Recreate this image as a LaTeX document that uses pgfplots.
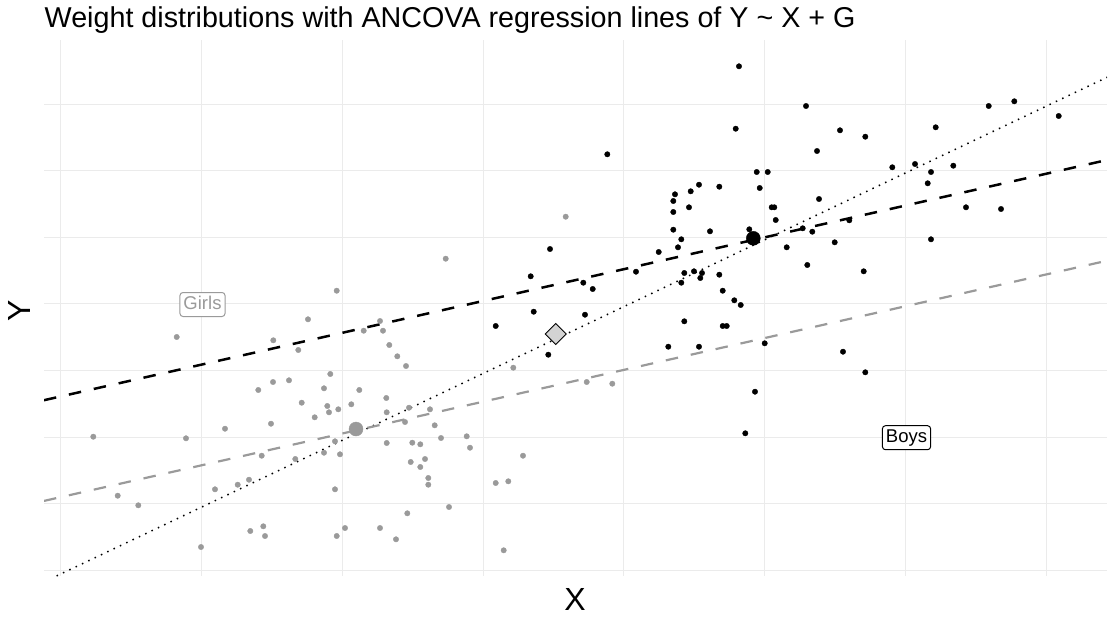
\documentclass[border=0pt]{standalone}
\usepackage{fontspec}
\setmainfont{Liberation Sans}
\usepackage{pgfplots}
\usepackage{pgfplotstable}
\pgfplotsset{compat=1.18}
\definecolor{gridgray}{HTML}{EBEBEB}
\definecolor{girlgray}{HTML}{9A9A9A}
\definecolor{diamondfill}{HTML}{D3D3D3}

% point positions (x right, y down)
\pgfplotstableread{
x y
739 66.3
735.7 128.7
607.3 154.3
756.7 172
767.7 172
759.7 188
699 184.7
690.7 191.3
719.3 186.7
675 194.3
673.3 201
689 207.3
673.3 212
673.3 229.7
710 231.3
749.3 229.3
681.3 239.3
658.7 252
678 247.3
550 249
636 271.7
684.3 273
694 271.3
702 273
700.3 278
681.3 282.7
719.3 274.7
722.7 290.7
734.3 300.3
740.7 305
530.7 276.3
583.3 282.7
592.7 289
533.7 311.7
585 314.7
806 106
988.7 106
1014.3 101.3
1058.7 116
840 130.3
865.3 136.7
935.7 127.3
817 151
892.3 167.3
915 164
931 172
953.3 165.7
927.7 183.3
771.7 207.3
774.3 207.3
819 199
775.7 220
966 207.3
1001 209
802.7 228.3
812.3 231.7
849.3 220.3
786.7 247.3
834.7 242.3
931 239.3
807.3 265
863.7 271.3
495.7 326
548.3 354.7
684.3 321.3
722.7 326
726.7 326
668.3 346.7
699 346.7
755 391.7
745.3 433.3
764.7 343.3
843 351.7
865.3 372.3
}\boys

\pgfplotstableread{
x y
336.7 290.7
565.7 216.7
445.7 258.7
406 366
513.3 367.7
586.7 382
612.3 383.7
409 407.7
430 409.3
405 422
434.7 425.3
441 438
466.7 436.3
470 447.7
412.3 442.7
420.3 444.3
410.7 462
420.3 467
425 459
428.3 478
428.3 484.7
523 455.7
495.7 483
508.3 481.3
449 507
407.3 513.3
503.7 550.3
308 319.3
176.7 337
273.3 340.3
298.3 350
363.7 330.7
380 321
383 330.7
389.3 345
397.3 356.3
330.3 374
258.3 390
273 382
289 380.3
324 388.3
359.3 390
301.7 402.7
314.7 417.3
327.3 406
329 412.3
338.3 409.3
351.3 404.3
386.3 398
386.7 412.3
271 423.7
225 428.7
93.3 436.7
186 438.3
335 441.3
324 452.7
340 454.3
386.7 443
261.7 455.7
295.3 459
249 479.7
237.7 484.7
215 489.3
335 489.3
117.7 495.7
138.3 505.3
250.3 531
263.3 526.3
265 536
201 547
336.7 536
345 528
380 528
396 539.3
}\girls

\begin{document}
\begin{tikzpicture}
\path[use as bounding box] (0,0) rectangle (1115pt,-617pt);
\begin{axis}[
  at={(44pt,-576pt)}, anchor=south west,
  width=1063pt, height=536pt, scale only axis,
  xmin=44, xmax=1107, ymin=40, ymax=576, y dir=reverse,
  xtick={60.7,201.5,342.3,483.1,623.9,764.7,905.5,1046.3},
  ytick={104,170.6,237.2,303.8,370.4,437,503.6,570.2},
  xticklabels={}, yticklabels={},
  axis line style={draw=none}, tick style={draw=none},
  grid=major, grid style={draw=gridgray, line width=1pt},
  clip=true,
]
\addplot[only marks, mark=*, mark size=2.7pt, color=girlgray] table {\girls};
\addplot[only marks, mark=*, mark size=2.7pt, color=black] table {\boys};
\addplot[draw=black, line width=1.5pt, dash pattern=on 1.5pt off 5.5pt] coordinates {(44,581.9) (1107,77.3)};
\addplot[draw=girlgray, line width=2.2pt, dash pattern=on 12.5pt off 13pt] coordinates {(44,500.9) (1107,260.7)};
\addplot[draw=black, line width=2.5pt, dash pattern=on 12.5pt off 13pt] coordinates {(44,400.2) (1107,160.0)};
\addplot[only marks, mark=*, mark size=7pt, color=girlgray] coordinates {(356,429)};
\addplot[only marks, mark=*, mark size=7pt, color=black] coordinates {(753.3,238.3)};
\addplot[only marks, mark=square*, mark size=7.4pt, mark options={rotate=45, fill=diamondfill, draw=black, line width=0.9pt}] coordinates {(555.7,334)};
\node[draw=girlgray, text=girlgray, fill=white, rounded corners=3pt, line width=1pt,
  font=\fontsize{18.5}{20}\selectfont, inner sep=3.5pt, text height=13.5pt, text depth=3.5pt]
  at (axis cs:202.5,304.5) {Girls};
\node[draw=black, text=black, fill=white, rounded corners=3pt, line width=1pt,
  font=\fontsize{18.5}{20}\selectfont, inner sep=3.5pt, text height=13.5pt, text depth=3.5pt]
  at (axis cs:906.5,437.7) {Boys};
\end{axis}
\node[anchor=base west, inner sep=0pt, font=\fontsize{28.7}{31}\selectfont] at (44.5pt,-27.3pt)
  {Weight distributions with ANCOVA regression lines of Y \textasciitilde{} X + G};
\node[inner sep=0pt, font=\fontsize{32}{36}\selectfont] at (575pt,-599pt) {X};
\node[inner sep=0pt, rotate=90, font=\fontsize{32}{36}\selectfont] at (19pt,-311pt) {Y};
\end{tikzpicture}
\end{document}
